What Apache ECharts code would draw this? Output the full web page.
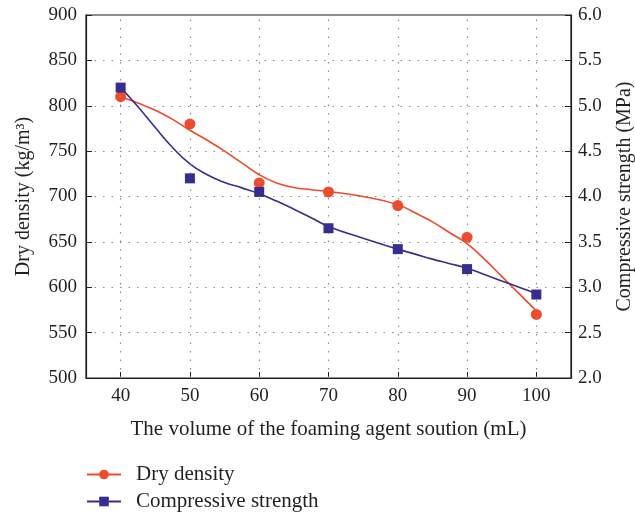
<!DOCTYPE html>
<html>
<head>
<meta charset="utf-8">
<script src="https://cdn.jsdelivr.net/npm/echarts@6/dist/echarts.min.js"></script>
<style>html,body{margin:0;padding:0;background:#fff}#c{width:635px;height:517px}</style>
</head>
<body>
<div id="c"></div>
<script>
// Measured points
var volumes = [40, 50, 60, 70, 80, 90, 100];
var dryDensity = [810, 780, 715, 705, 690, 655, 570];
var compStrength = [5.2, 4.2, 4.05, 3.65, 3.42, 3.2, 2.92];
// Fitted curves
var curveX = [40, 42.5, 45, 47.5, 50, 52.5, 55, 57.5, 60, 62.5, 65, 67.5, 70, 75, 80, 82.5, 85, 87.5, 90, 92.5, 95, 97.5, 100];
var densityCurve = [810, 803, 795, 785, 773, 762, 750, 737, 724, 715, 710, 707.5, 705.5, 700, 691, 682, 672, 660, 648, 631, 612, 593, 574];
var strengthCurve = [5.2, 4.99, 4.76, 4.54, 4.36, 4.24, 4.155, 4.095, 4.03, 3.95, 3.86, 3.765, 3.67, 3.54, 3.42, 3.365, 3.31, 3.26, 3.21, 3.14, 3.07, 3.0, 2.93];
var leftTicks = [500, 900, 50];
var rightTicks = [2.0, 6.0, 0.5];

var FONT = '"Liberation Serif", "DejaVu Serif", serif';
var TXT = '#231f20';
var RED = '#ef4a2b';
var BLUE = '#352e8e';
var GRIDC = '#8a8a8a';

function pairs(xs, ys) { return xs.map(function (x, i) { return [x, ys[i]]; }); }

var chart = echarts.init(document.getElementById('c'), null, {renderer: 'canvas'});
chart.setOption({
  animation: false,
  backgroundColor: '#fff',
  grid: {left: 86, right: 64, top: 15, bottom: 139, show: true, borderColor: TXT, borderWidth: 1.2,
         outerBoundsMode: 'none', containLabel: false},
  legend: {
    orient: 'vertical', left: 86, top: 464, itemGap: 6, padding: 0,
    itemWidth: 34, itemHeight: 12,
    textStyle: {fontFamily: FONT, fontSize: 21, color: TXT, padding: [0, 0, 0, 10]},
    data: ['Dry density', 'Compressive strength']
  },
  xAxis: {
    type: 'value', min: 35, max: 105,
    name: 'The volume of the foaming agent soution (mL)',
    nameLocation: 'middle', nameGap: 41,
    nameTextStyle: {fontFamily: FONT, fontSize: 21, color: TXT},
    axisLine: {lineStyle: {color: TXT, width: 1.2}},
    axisTick: {inside: true, length: 6, customValues: volumes, lineStyle: {color: TXT}},
    axisLabel: {customValues: volumes, fontFamily: FONT, fontSize: 19, color: TXT, margin: 9},
    splitLine: {show: false}
  },
  yAxis: [{
    type: 'value', min: leftTicks[0], max: leftTicks[1], interval: leftTicks[2],
    name: 'Dry density (kg/m³)', nameLocation: 'middle', nameGap: 52, nameRotate: 90,
    nameTextStyle: {fontFamily: FONT, fontSize: 20, color: TXT},
    axisLine: {show: true, lineStyle: {color: TXT, width: 1.2}},
    axisTick: {show: true, inside: true, length: 6, lineStyle: {color: TXT}},
    axisLabel: {fontFamily: FONT, fontSize: 19, color: TXT, margin: 9},
    splitLine: {show: true, lineStyle: {color: GRIDC, type: [1.5, 7], width: 1.2}}
  }, {
    type: 'value', min: rightTicks[0], max: rightTicks[1], interval: rightTicks[2],
    position: 'right',
    name: 'Compressive strength (MPa)', nameLocation: 'middle', nameGap: 44, nameRotate: 90,
    nameTextStyle: {fontFamily: FONT, fontSize: 20, color: TXT},
    axisLine: {show: true, lineStyle: {color: TXT, width: 1.2}},
    axisTick: {show: true, inside: true, length: 6, lineStyle: {color: TXT}},
    axisLabel: {fontFamily: FONT, fontSize: 19, color: TXT, margin: 7,
      formatter: function (v) { return v.toFixed(1); }},
    splitLine: {show: false}
  }],
  series: [{
    name: 'Dry density', type: 'line', yAxisIndex: 0, smooth: true,
    data: pairs(curveX, densityCurve), showSymbol: false, symbol: 'circle', symbolSize: 11,
    lineStyle: {color: RED, width: 1.6}, itemStyle: {color: RED, opacity: 1}, silent: true, z: 3
  }, {
    name: 'Compressive strength', type: 'line', yAxisIndex: 1, smooth: true,
    data: pairs(curveX, strengthCurve), showSymbol: false, symbol: 'rect', symbolSize: 10,
    lineStyle: {color: BLUE, width: 1.6}, itemStyle: {color: BLUE, opacity: 1}, silent: true, z: 3
  }, {
    name: 'Dry density', type: 'scatter', yAxisIndex: 0,
    data: pairs(volumes, dryDensity), symbol: 'circle', symbolSize: 11,
    itemStyle: {color: RED, opacity: 1}, z: 4,
    markLine: {
      silent: true, symbol: 'none', label: {show: false},
      lineStyle: {color: GRIDC, type: [1.5, 7], width: 1.2},
      data: volumes.map(function (v) { return {xAxis: v}; })
    }
  }, {
    name: 'Compressive strength', type: 'scatter', yAxisIndex: 1,
    data: pairs(volumes, compStrength), symbol: 'rect', symbolSize: 10,
    itemStyle: {color: BLUE, opacity: 1}, z: 5
  }]
});
</script>
</body>
</html>
